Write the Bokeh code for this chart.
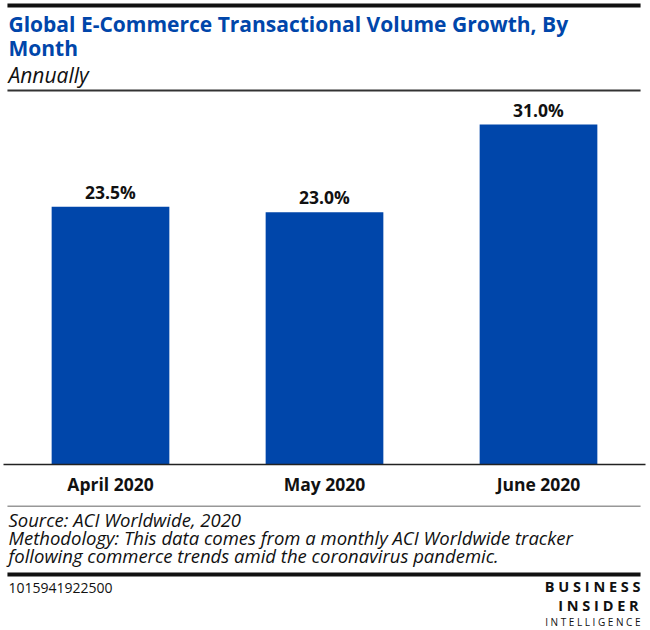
from bokeh.plotting import figure
from bokeh.layouts import column
from bokeh.models import ColumnDataSource, Range1d, LabelSet
from bokeh.core.properties import value
from bokeh.embed import file_html
from bokeh.resources import INLINE

months = ["April 2020", "May 2020", "June 2020"]
growth = [23.5, 23.0, 31.0]
labels = ["23.5%", "23.0%", "31.0%"]

title_lines = ["Global E-Commerce Transactional Volume Growth, By", "Month"]
subtitle = "Annually"
source_text = "Source: ACI Worldwide, 2020"
method_lines = ["Methodology: This data comes from a monthly ACI Worldwide tracker",
                "following commerce trends amid the coronavirus pandemic."]
chart_id = "1015941922500"
logo_lines = ["B U S I N E S S", "I N S I D E R", "I N T E L L I G E N C E"]

BLUE = "#0046AA"
FONT = "Open Sans"
W = 650


def pixel_fig(h):
    f = figure(width=W, height=h, x_range=Range1d(0, W), y_range=Range1d(h, 0),
               output_backend="svg", toolbar_location=None, min_border=0)
    f.axis.visible = False
    f.grid.visible = False
    f.outline_line_color = None
    return f


def txt(f, x, y, t, size, style="normal", color="#111111", align="left"):
    f.text(x=[x], y=[y], text=[t], text_font=value(FONT), text_font_size=size,
           text_font_style=style, text_color=color, text_align=align,
           text_baseline="alphabetic")


def bar(f, x0, x1, y0, y1, color):
    f.quad(left=[x0], right=[x1], top=[y0], bottom=[y1], fill_color=color, line_color=None)


# header
hdr = pixel_fig(92)
bar(hdr, 4, 645, 3, 7, "#111111")
txt(hdr, 5, 23, title_lines[0], "21px", "bold", BLUE)
txt(hdr, 5, 47, title_lines[1], "21px", "bold", BLUE)
txt(hdr, 5, 74, subtitle, "21px", "italic")
bar(hdr, 4, 645, 89, 91, "#333333")

# main chart
src = ColumnDataSource(dict(month=months, growth=growth, label=labels))
p = figure(width=W, height=413, x_range=months, y_range=Range1d(0, 33.92),
           output_backend="svg", toolbar_location=None,
           min_border_left=3, min_border_right=5, min_border_top=0, min_border_bottom=41)
p.outline_line_color = None
p.xgrid.visible = False
p.ygrid.visible = False
p.yaxis.visible = False
p.x_range.range_padding = 0
p.vbar(x="month", top="growth", width=0.55, source=src, color=BLUE, line_color=None)
p.add_layout(LabelSet(x="month", y="growth", text="label", source=src,
                      text_align="center", text_baseline="alphabetic", y_offset=8,
                      text_font=value(FONT), text_font_style="bold", text_font_size="17.5px",
                      text_color="#111111"))
ax = p.xaxis[0]
ax.axis_line_color = "#222222"
ax.axis_line_width = 1.5
ax.major_tick_line_color = None
ax.minor_tick_line_color = None
ax.major_label_standoff = 1
ax.major_label_text_font = FONT
ax.major_label_text_font_style = "bold"
ax.major_label_text_font_size = "17.5px"
ax.major_label_text_color = "#111111"

# footer
ftr = pixel_fig(125)
bar(ftr, 4, 645, 0, 1, "#333333")
txt(ftr, 5, 14, source_text, "18.5px", "italic")
txt(ftr, 5, 32, method_lines[0], "18.5px", "italic")
txt(ftr, 5, 50, method_lines[1], "18.5px", "italic")
bar(ftr, 4, 645, 67, 71, "#111111")
txt(ftr, 5, 82, chart_id, "14px")
txt(ftr, 645, 81, logo_lines[0], "14.5px", "bold", align="right")
txt(ftr, 643, 100, logo_lines[1], "14.5px", "bold", align="right")
txt(ftr, 645, 116, logo_lines[2], "10px", align="right")

layout = column(hdr, p, ftr, spacing=0)
open("out.html", "w").write(file_html(layout, INLINE))
